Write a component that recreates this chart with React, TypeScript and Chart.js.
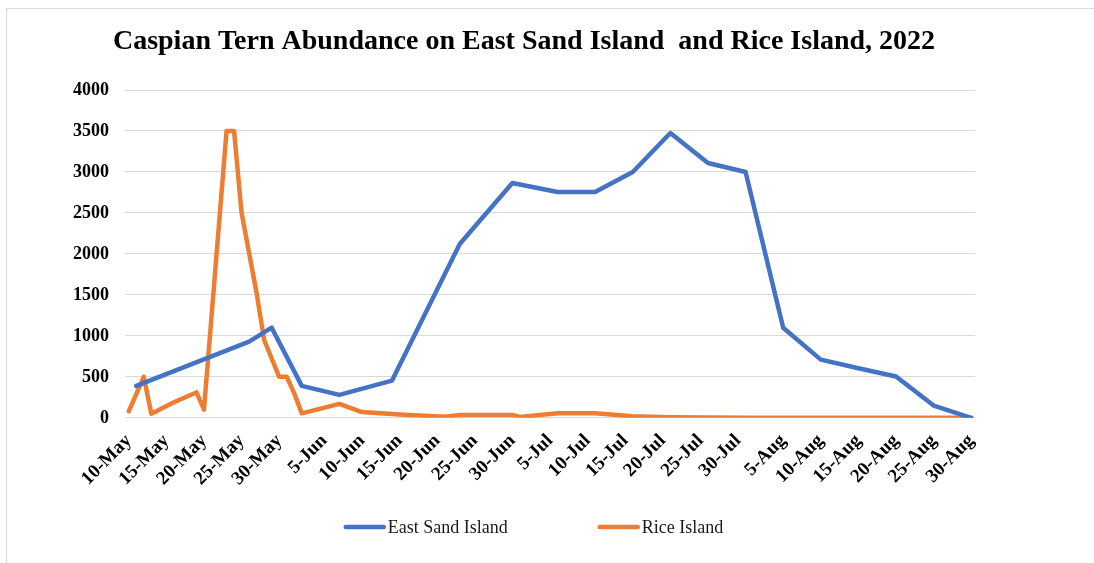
import React, { useEffect, useRef } from "react";
import { Chart, registerables } from "chart.js";

Chart.register(...registerables);

const FONT = "'Liberation Serif', 'Times New Roman', serif";

const titleText = "Caspian Tern Abundance on East Sand Island  and Rice Island, 2022";

const baseDate = "2022-05-10";

const tickDates = [
  "2022-05-10", "2022-05-15", "2022-05-20", "2022-05-25", "2022-05-30",
  "2022-06-05", "2022-06-10", "2022-06-15", "2022-06-20", "2022-06-25", "2022-06-30",
  "2022-07-05", "2022-07-10", "2022-07-15", "2022-07-20", "2022-07-25", "2022-07-30",
  "2022-08-05", "2022-08-10", "2022-08-15", "2022-08-20", "2022-08-25", "2022-08-30",
];
const tickLabels = [
  "10-May", "15-May", "20-May", "25-May", "30-May",
  "5-Jun", "10-Jun", "15-Jun", "20-Jun", "25-Jun", "30-Jun",
  "5-Jul", "10-Jul", "15-Jul", "20-Jul", "25-Jul", "30-Jul",
  "5-Aug", "10-Aug", "15-Aug", "20-Aug", "25-Aug", "30-Aug",
];

const eastSandLabel = "East Sand Island";
const eastSandDates = [
  "2022-05-11", "2022-05-26", "2022-05-29", "2022-06-02", "2022-06-07", "2022-06-14",
  "2022-06-23", "2022-06-30", "2022-07-06", "2022-07-11", "2022-07-16", "2022-07-21",
  "2022-07-26", "2022-07-31", "2022-08-05", "2022-08-10", "2022-08-15", "2022-08-20",
  "2022-08-25", "2022-08-30",
];
const eastSandValues = [
  390, 930, 1100, 390, 280, 455,
  2120, 2865, 2755, 2755, 3000, 3475,
  3110, 3000, 1100, 710, 605, 505,
  150, 0,
];

const riceLabel = "Rice Island";
const riceDates = [
  "2022-05-10", "2022-05-12", "2022-05-13", "2022-05-16", "2022-05-19", "2022-05-20",
  "2022-05-23", "2022-05-24", "2022-05-25", "2022-05-27", "2022-05-28", "2022-05-30",
  "2022-05-31", "2022-06-01", "2022-06-02", "2022-06-07", "2022-06-10", "2022-06-15",
  "2022-06-21", "2022-06-23", "2022-06-30", "2022-07-01", "2022-07-06", "2022-07-11",
  "2022-07-16", "2022-07-21", "2022-07-26", "2022-07-31", "2022-08-05", "2022-08-10",
  "2022-08-15", "2022-08-20", "2022-08-25", "2022-08-30",
];
const riceValues = [
  80, 500, 50, 190, 310, 100,
  3500, 3500, 2500, 1520, 950, 500,
  500, 300, 55, 170, 70, 40,
  15, 35, 35, 12, 55, 55,
  20, 8, 3, 0, 0, 0,
  0, 0, 0, 0,
];

const dayOf = (d: string) => (Date.parse(d) - Date.parse(baseDate)) / 86400000;
const tickDays = tickDates.map(dayOf);

const toPoints = (dates: string[], values: number[]) =>
  dates.map((d, i) => ({ x: dayOf(d), y: values[i] }));

const BLUE = "#4472C4";
const ORANGE = "#ED7D31";

const legendPlugin = {
  id: "customLegend",
  afterDraw(chart: any) {
    const ctx = chart.ctx as CanvasRenderingContext2D;
    const lineLen = 42;
    const textGap = 2;
    const itemGap = 90;
    const centerX = 533.5;
    const y = 527;
    ctx.save();
    ctx.font = `18px ${FONT}`;
    ctx.textBaseline = "middle";
    ctx.textAlign = "left";
    const items = chart.data.datasets.map((ds: any) => ({
      text: ds.label,
      color: ds.borderColor,
      w: ctx.measureText(ds.label).width,
    }));
    const total =
      items.reduce((a: number, it: any) => a + lineLen + textGap + it.w, 0) +
      itemGap * (items.length - 1);
    let x = centerX - total / 2;
    items.forEach((it: any) => {
      ctx.strokeStyle = it.color;
      ctx.lineWidth = 4.5;
      ctx.lineCap = "round";
      ctx.beginPath();
      ctx.moveTo(x + 2, y);
      ctx.lineTo(x + lineLen - 2, y);
      ctx.stroke();
      ctx.fillStyle = "#1a1a1a";
      ctx.fillText(it.text, x + lineLen + textGap, y + 1);
      x += lineLen + textGap + it.w + itemGap;
    });
    ctx.restore();
  },
};

export default function App() {
  const canvasRef = useRef<HTMLCanvasElement | null>(null);

  useEffect(() => {
    if (!canvasRef.current) return;
    const chart = new Chart(canvasRef.current, {
      type: "line",
      data: {
        datasets: [
          {
            label: eastSandLabel,
            data: toPoints(eastSandDates, eastSandValues),
            borderColor: BLUE,
            backgroundColor: BLUE,
            borderWidth: 4.5,
            borderJoinStyle: "round",
            borderCapStyle: "round",
            pointRadius: 0,
            tension: 0,
          },
          {
            label: riceLabel,
            data: toPoints(riceDates, riceValues),
            borderColor: ORANGE,
            backgroundColor: ORANGE,
            borderWidth: 4.5,
            borderJoinStyle: "round",
            borderCapStyle: "round",
            pointRadius: 0,
            tension: 0,
          },
        ],
      },
      options: {
        animation: false,
        responsive: false,
        maintainAspectRatio: false,
        layout: { padding: { left: 73, right: 119, top: 0, bottom: 69 } },
        plugins: {
          legend: { display: false },
          tooltip: { enabled: false },
          title: {
            display: true,
            text: titleText,
            color: "#000",
            font: { family: FONT, size: 28, weight: "bold" },
            padding: { top: 25, bottom: 31.4 },
          },
        },
        scales: {
          x: {
            type: "linear",
            min: -0.5,
            max: 112.5,
            grid: { display: false },
            border: { display: false },
            afterBuildTicks: (scale: any) => {
              scale.ticks = tickDays.map((v) => ({ value: v }));
            },
            ticks: {
              autoSkip: false,
              minRotation: 45,
              maxRotation: 45,
              padding: 4,
              color: "#000",
              font: { family: FONT, size: 19, weight: "bold" },
              callback: (_v: any, i: number) => tickLabels[i],
            },
          },
          y: {
            min: 0,
            max: 4000,
            grid: { color: "#d9d9d9", lineWidth: 1, drawTicks: false },
            border: { display: false },
            afterFit: (scale: any) => {
              scale.width = 52;
            },
            ticks: {
              stepSize: 500,
              padding: 16,
              color: "#000",
              font: { family: FONT, size: 18, weight: "bold" },
              callback: (v: any) => String(v),
            },
          },
        },
      },
      plugins: [legendPlugin],
    } as any);
    return () => chart.destroy();
  }, []);

  return (
    <div
      style={{
        position: "fixed",
        left: 0,
        top: 0,
        width: 1094,
        height: 563,
        overflow: "hidden",
        background: "#fff",
      }}
    >
      <div
        style={{
          position: "absolute",
          left: 6,
          top: 8,
          width: 1100,
          height: 600,
          borderLeft: "1px solid #d9d9d9",
          borderTop: "1px solid #d9d9d9",
        }}
      />
      <canvas
        ref={canvasRef}
        width={1094}
        height={563}
        style={{ position: "absolute", left: 0, top: 0, display: "block" }}
      />
    </div>
  );
}
